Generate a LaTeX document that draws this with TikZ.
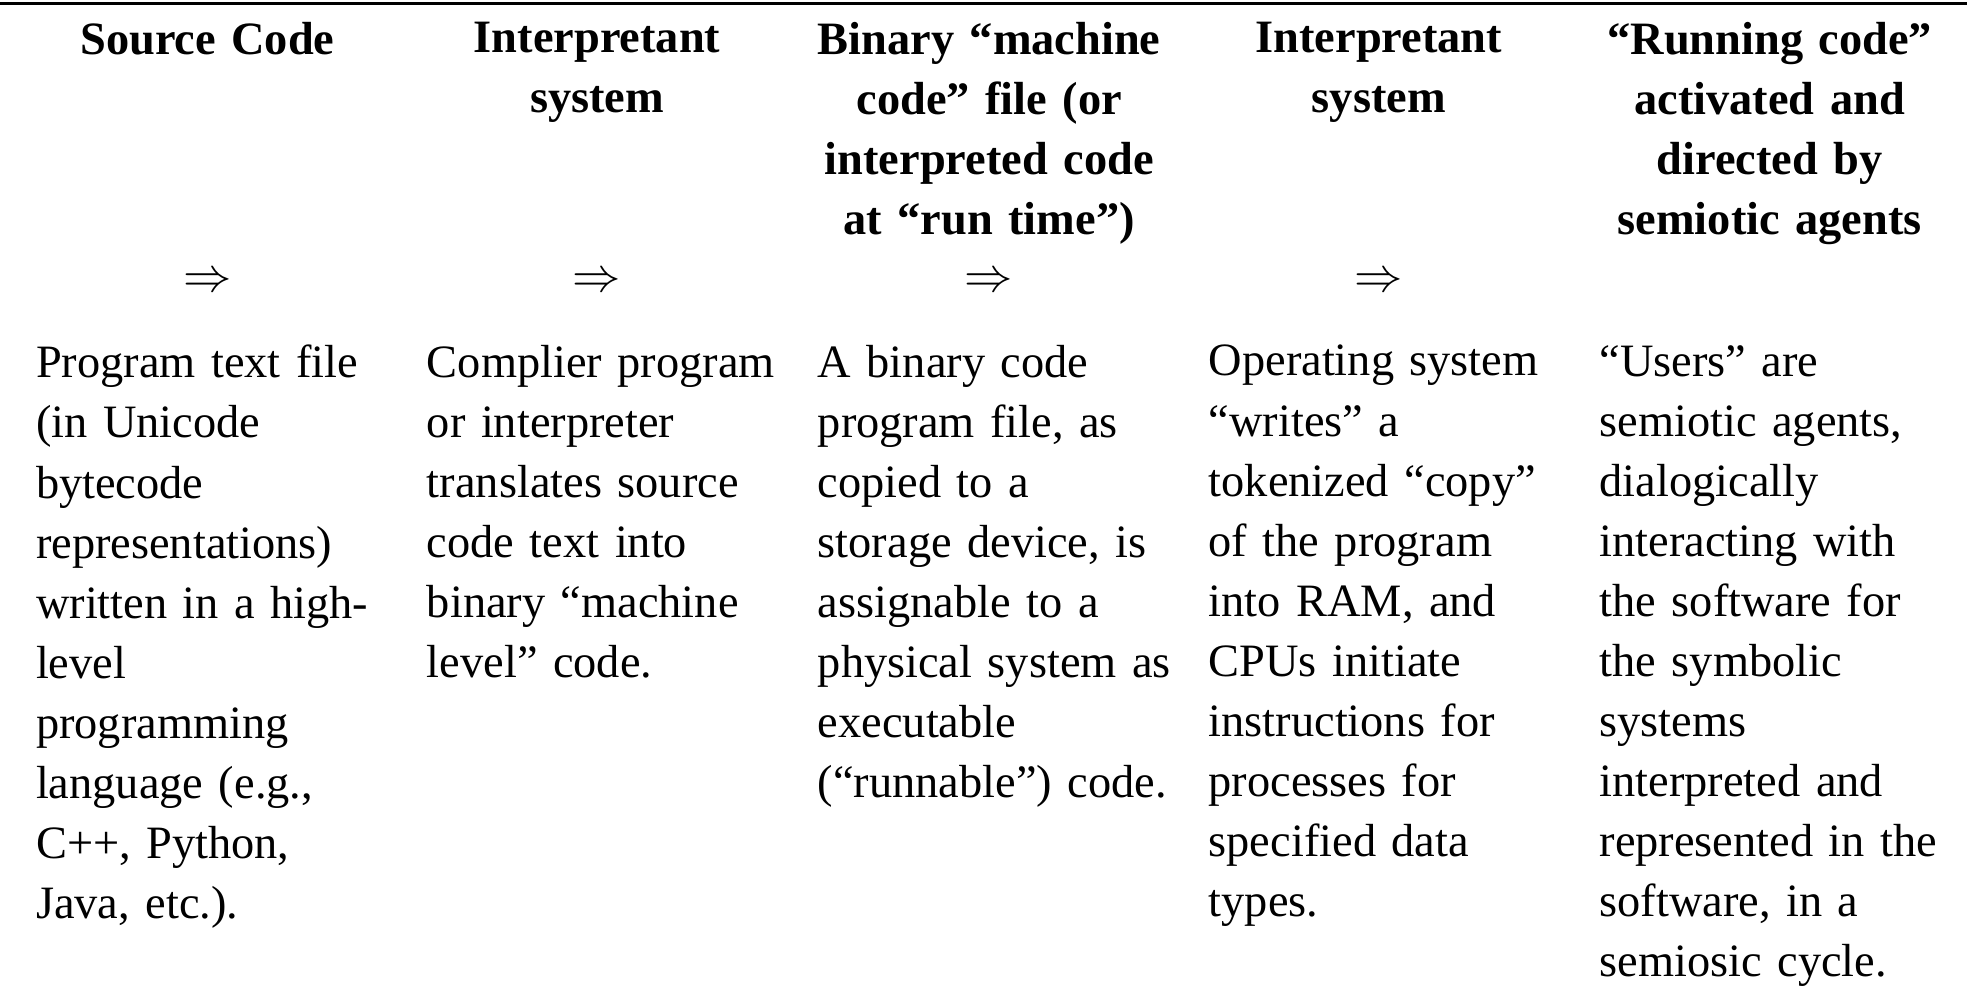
\documentclass[tikz,border=0pt]{standalone}
\usepackage{fontspec}
\setmainfont{Liberation Serif}
\usepackage{tikz}
\usetikzlibrary{positioning}

\begin{document}
\begin{tikzpicture}[
		head/.style={anchor=north, inner sep=0pt, text width=3.0cm, align=center, font=\fontsize{10.5}{13.6}\selectfont\bfseries},
		body/.style={anchor=north west, inner sep=0pt, text width=3.05cm, align=left, font=\fontsize{10.5}{13.6}\selectfont},
		flow/.style={inner sep=0pt, font=\fontsize{10.5}{13.6}\selectfont}
	]
		\useasboundingbox (0,0) rectangle (15.65,-7.95);
		% Top rule
		\draw[line width=0.6pt] (0,-0.03) -- (15.65,-0.03);

		% Column heads
		\node[head] (src) at (1.65,-0.17) {Source Code};
		\node[head] (interpA) at (4.75,-0.17) {Interpretant\\system};
		\node[head] (binary) at (7.87,-0.17) {Binary “machine\\code” file (or\\interpreted code\\at “run time”)};
		\node[head] (interpB) at (10.97,-0.17) {Interpretant\\system};
		\node[head] (running) at (14.08,-0.17) {“Running code”\\activated and\\directed by\\semiotic agents};

		% Flow marks
		\node[flow] (flowA) at (1.65,-2.25) {$\Rightarrow$};
		\node[flow] (flowB) at (4.75,-2.25) {$\Rightarrow$};
		\node[flow] (flowC) at (7.87,-2.25) {$\Rightarrow$};
		\node[flow] (flowD) at (10.97,-2.25) {$\Rightarrow$};

		% Column texts
		\node[body] (srcText) at (0.28,-2.74) {Program text file\\(in Unicode\\bytecode\\representations)\\written in a high-\\level\\programming\\language (e.g.,\\C++, Python,\\Java, etc.).};
		\node[body] (interpAText) at (3.39,-2.74) {Complier program\\or interpreter\\translates source\\code text into\\binary “machine\\level” code.};
		\node[body] (binaryText) at (6.50,-2.74) {A binary code\\program file, as\\copied to a\\storage device, is\\assignable to a\\physical system as\\executable\\(“runnable”) code.};
		\node[body] (interpBText) at (9.61,-2.74) {Operating system\\“writes” a\\tokenized “copy”\\of the program\\into RAM, and\\CPUs initiate\\instructions for\\processes for\\specified data\\types.};
		\node[body] (runningText) at (12.72,-2.74) {“Users” are\\semiotic agents,\\dialogically\\interacting with\\the software for\\the symbolic\\systems\\interpreted and\\represented in the\\software, in a\\semiosic cycle.};
	\end{tikzpicture}
\end{document}
